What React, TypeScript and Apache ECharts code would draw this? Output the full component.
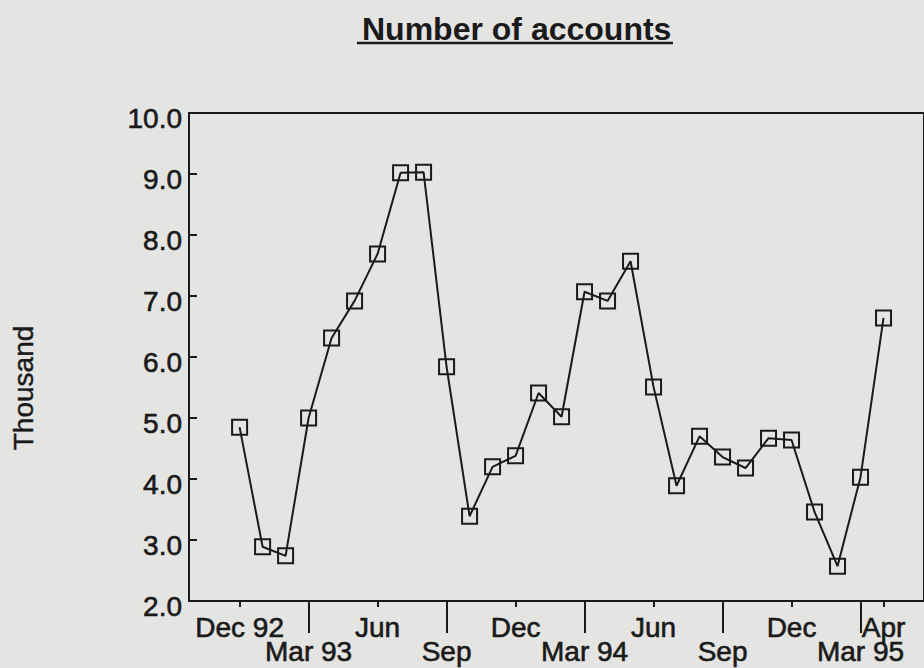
import React, { useEffect, useRef } from "react";
import * as echarts from "echarts";

// Months since Dec 92 (0 = Dec 92 ... 28 = Apr 95)
const monthIndex = [0, 1, 2, 3, 4, 5, 6, 7, 8, 9, 10, 11, 12, 13, 14, 15, 16, 17, 18, 19, 20, 21, 22, 23, 24, 25, 26, 27, 28];
// Number of accounts (thousand)
const accounts = [4.85, 2.89, 2.74, 5.0, 6.31, 6.92, 7.69, 9.02, 9.03, 5.84, 3.39, 4.2, 4.38, 5.41, 5.02, 7.07, 6.92, 7.57, 5.51, 3.89, 4.7, 4.36, 4.18, 4.67, 4.64, 3.46, 2.57, 4.03, 6.64];

const upperTickValues = [0, 6, 12, 18, 24, 28];
const upperTickLabels = ["Dec 92", "Jun", "Dec", "Jun", "Dec", "Apr"];
const lowerTickValues = [3, 9, 15, 21, 27];
const lowerTickLabels = ["Mar 93", "Sep", "Mar 94", "Sep", "Mar 95"];

const yTickLabels = ["2.0", "3.0", "4.0", "5.0", "6.0", "7.0", "8.0", "9.0", "10.0"];

const INK = "#1a1a1a";
const FONT = "Liberation Sans, Arial, Helvetica, sans-serif";

export default function App() {
  const ref = useRef<HTMLDivElement>(null);
  useEffect(() => {
    if (!ref.current) return;
    const chart = echarts.init(ref.current, null, { renderer: "svg" });
    const xMin = -2.2;
    const xMax = 29.76;
    const labelFor = (vals: number[], labels: string[]) => (v: number) => {
      const i = vals.findIndex((t) => Math.abs(t - v) < 1e-6);
      return i >= 0 ? labels[i] : "";
    };
    const labelStyle = {
      fontSize: 28,
      color: INK,
      fontFamily: FONT,
      textBorderColor: INK,
      textBorderWidth: 0.6,
    };
    chart.setOption({
      animation: false,
      backgroundColor: "#e4e4e2",
      textStyle: { fontFamily: FONT, color: INK },
      title: {
        text: "Number of accounts",
        left: 357,
        top: 8,
        textStyle: { fontSize: 32, fontWeight: "bold", color: INK, fontFamily: FONT },
      },
      graphic: [
        {
          type: "line",
          shape: { x1: 357, y1: 43, x2: 673, y2: 43 },
          style: { stroke: INK, lineWidth: 2.5 },
        },
        {
          type: "text",
          x: 23,
          y: 388,
          rotation: Math.PI / 2,
          style: {
            text: "Thousand",
            fontSize: 28,
            fontFamily: FONT,
            fill: INK,
            stroke: INK,
            lineWidth: 0.4,
            textAlign: "center",
            textVerticalAlign: "middle",
          },
        },
      ],
      grid: {
        left: 189,
        top: 113,
        right: 0,
        bottom: 67,
        show: true,
        borderColor: INK,
        borderWidth: 2,
        backgroundColor: "transparent",
      },
      xAxis: [
        {
          type: "value",
          position: "bottom",
          min: xMin,
          max: xMax,
          splitLine: { show: false },
          axisLine: { show: true, onZero: false, lineStyle: { color: INK, width: 2 } },
          axisTick: { show: true, customValues: upperTickValues, length: 6, lineStyle: { color: INK, width: 2 } },
          axisLabel: {
            customValues: upperTickValues,
            formatter: labelFor(upperTickValues, upperTickLabels),
            margin: 14,
            lineHeight: 24,
            ...labelStyle,
          },
        },
        {
          type: "value",
          position: "bottom",
          offset: 0,
          min: xMin,
          max: xMax,
          splitLine: { show: false },
          axisLine: { show: false, onZero: false },
          axisTick: { show: true, customValues: lowerTickValues, length: 32, lineStyle: { color: INK, width: 2 } },
          axisLabel: {
            customValues: lowerTickValues,
            formatter: labelFor(lowerTickValues, lowerTickLabels),
            margin: 38,
            lineHeight: 24,
            ...labelStyle,
          },
        },
      ],
      yAxis: {
        type: "value",
        min: 2,
        max: 10,
        interval: 1,
        splitLine: { show: false },
        axisLine: { show: true, onZero: false, lineStyle: { color: INK, width: 2 } },
        axisTick: { show: true, inside: true, length: 8, lineStyle: { color: INK, width: 2 } },
        axisLabel: {
          formatter: (v: number) => yTickLabels[Math.round(v) - 2] ?? "",
          margin: 7,
          verticalAlign: "top",
          lineHeight: 10,
          ...labelStyle,
        },
      },
      series: [
        {
          type: "line",
          xAxisIndex: 0,
          data: monthIndex.map((m, i) => [m, accounts[i]]),
          symbol: "rect",
          symbolSize: 15,
          showSymbol: true,
          lineStyle: { color: INK, width: 2 },
          itemStyle: { color: "rgba(0,0,0,0)", borderColor: INK, borderWidth: 2 },
        },
      ],
    });
    return () => chart.dispose();
  }, []);
  return (
    <div
      ref={ref}
      style={{ position: "fixed", left: 0, top: 0, width: 924, height: 668 }}
    />
  );
}
